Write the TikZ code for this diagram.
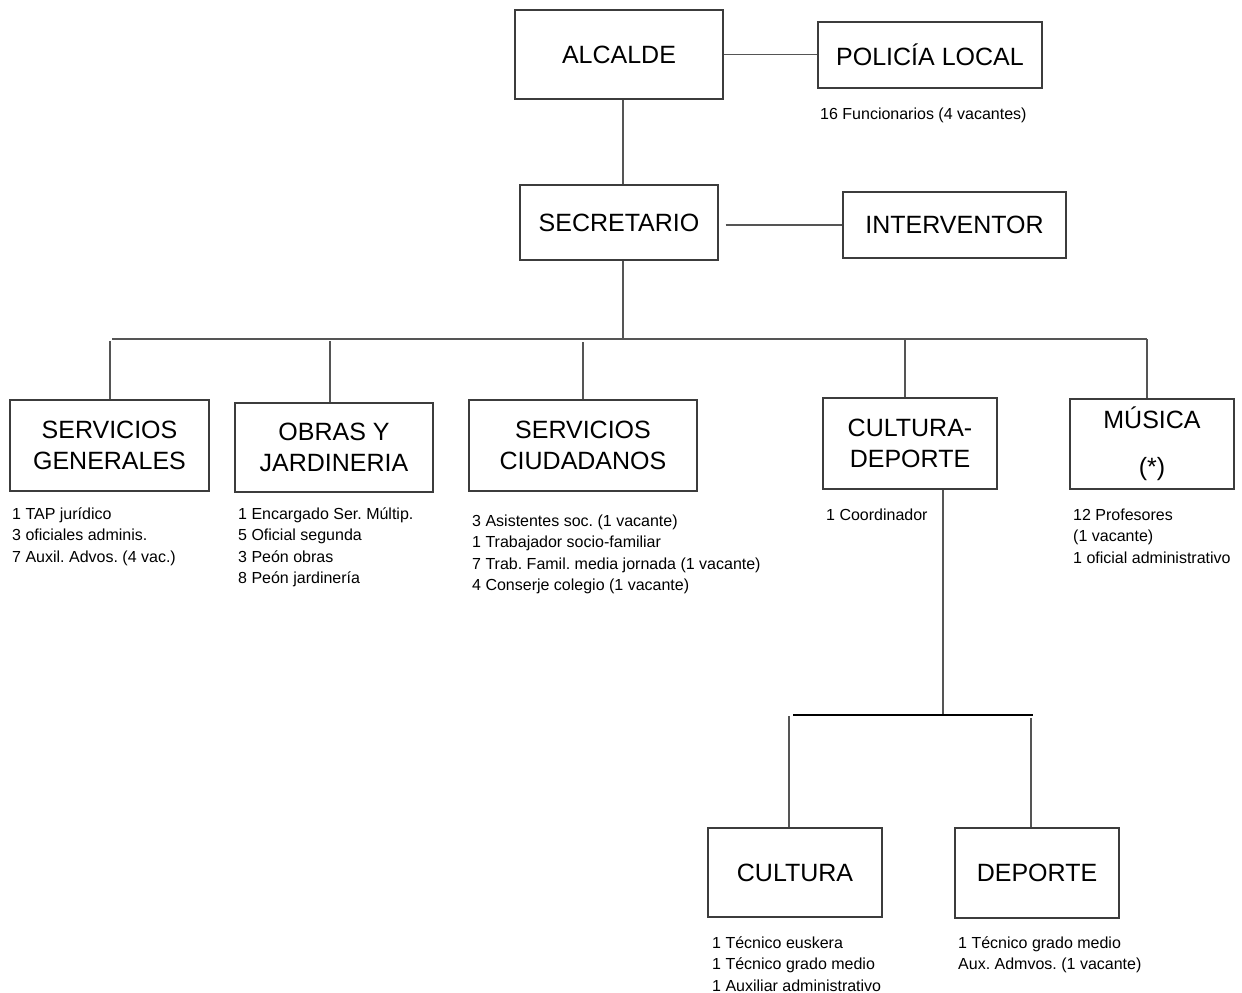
\documentclass[tikz,border=0pt]{standalone}
\usepackage{fontspec}
\setmainfont{Liberation Sans}
\definecolor{ln}{RGB}{85,85,85}
\definecolor{bx}{RGB}{60,60,60}
\begin{document}
\frenchspacing
\begin{tikzpicture}[x=1pt,y=-1pt,
  box/.style={draw=bx,line width=1.2pt,inner sep=0pt,align=center,font=\fontsize{25}{31}\selectfont},
  lst/.style={anchor=north west,inner sep=0pt,align=left,font=\fontsize{16}{21.5}\selectfont\frenchspacing},
  con/.style={draw=ln,line width=1.2pt}]
\useasboundingbox (0,0) rectangle (1242,993);
\fill[white] (0,0) rectangle (1242,993);
% boxes
\node[box,minimum width=208pt,minimum height=89pt] (alc) at (619,54.5) {ALCALDE};
\node[box,minimum width=224pt,minimum height=66pt] (pol) at (930,55) {POLICÍA LOCAL};
\node[box,minimum width=198pt,minimum height=75pt] (sec) at (619,222.5) {SECRETARIO};
\node[box,minimum width=223pt,minimum height=66pt] (int) at (954.5,225) {INTERVENTOR};
\node[box,minimum width=199pt,minimum height=91pt] (sg) at (109.5,445.5) {SERVICIOS\\GENERALES};
\node[box,minimum width=198pt,minimum height=89pt] (obr) at (334,447.5) {OBRAS Y\\JARDINERIA};
\node[box,minimum width=228pt,minimum height=91pt] (sc) at (583,445.5) {SERVICIOS\\CIUDADANOS};
\node[box,minimum width=174pt,minimum height=91pt] (cd) at (910,443.5) {CULTURA-\\DEPORTE};
\node[box,minimum width=164pt,minimum height=90pt] (mus) at (1152,444) {MÚSICA\\[16pt](*)};
\node[box,minimum width=174pt,minimum height=89pt] (cul) at (795,872.5) {CULTURA};
\node[box,minimum width=164pt,minimum height=90pt] (dep) at (1037,873) {DEPORTE};
% lists (top = first baseline - 15.05)
\node[lst] (polL) at (820,104) {\strut 16 Funcionarios (4 vacantes)};
\node[lst] (sgL) at (12,504) {\strut 1 TAP jurídico\\3 oficiales adminis.\\7 Auxil. Advos. (4 vac.)};
\node[lst] (obrL) at (238,504) {\strut 1 Encargado Ser. Múltip.\\5 Oficial segunda\\3 Peón obras\\8 Peón jardinería};
\node[lst] (scL) at (472,511) {\strut 3 Asistentes soc. (1 vacante)\\1 Trabajador socio-familiar\\7 Trab. Famil. media jornada (1 vacante)\\4 Conserje colegio (1 vacante)};
\node[lst] (cdL) at (826,505) {\strut 1 Coordinador};
\node[lst] (musL) at (1073,505) {\strut 12 Profesores\\(1 vacante)\\1 oficial administrativo};
\node[lst] (culL) at (712,933) {\strut 1 Técnico euskera\\1 Técnico grado medio\\1 Auxiliar administrativo};
\node[lst] (depL) at (958,933) {\strut 1 Técnico grado medio\\Aux. Admvos. (1 vacante)};
% coordinates
\coordinate (bus) at (623,339);
\coordinate (busL) at (112,339);
\coordinate (busR) at (1147,339);
\coordinate (d1) at (110,341);
\coordinate (d2) at (330,341);
\coordinate (d3) at (583,342);
\coordinate (d4) at (905,339);
\coordinate (d5) at (1147,339);
\coordinate (sub) at (943,715);
\coordinate (subL) at (793,715);
\coordinate (subR) at (1033,715);
\coordinate (e1) at (789,716);
\coordinate (e2) at (1031,718);
% connectors
\draw[con] (alc.east) -- (alc.east -| pol.west);
\draw[con] ([xshift=7pt]sec.east |- int.west) -- (int.west);
\draw[con] (alc.south -| bus) -- (sec.north -| bus);
\draw[con] (sec.south -| bus) -- (bus);
\draw[con] (busL) -- (busR);
\draw[con] (d1) -- (d1 |- sg.north);
\draw[con] (d2) -- (d2 |- obr.north);
\draw[con] (d3) -- (d3 |- sc.north);
\draw[con] (d4) -- (d4 |- cd.north);
\draw[con] (d5) -- (d5 |- mus.north);
\draw[con] (cd.south -| sub) -- (sub);
\draw[con,draw=black] (subL) -- (subR);
\draw[con] (e1) -- (e1 |- cul.north);
\draw[con] (e2) -- (e2 |- dep.north);
\end{tikzpicture}
\end{document}
